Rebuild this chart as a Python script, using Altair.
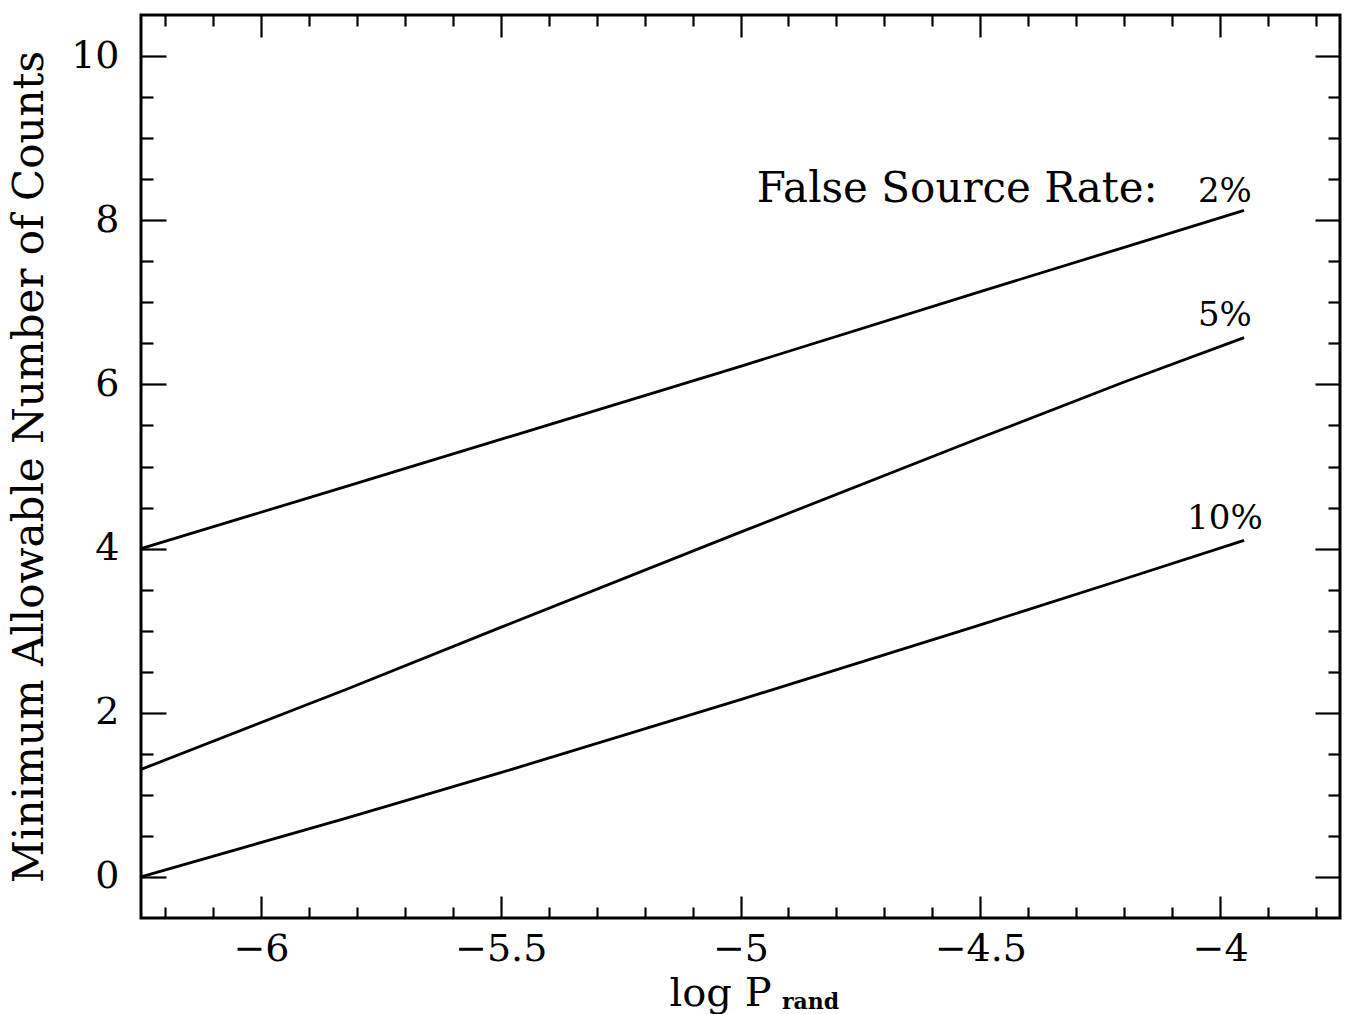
import altair as alt
import pandas as pd

# ---- data ----
log_p = [-6.25, -5.82, -5.5, -5.0, -4.5, -4.2, -3.95]
rate_2 = [4.0, 4.76, 5.33, 6.22, 7.13, 7.67, 8.12]
rate_5 = [1.31, 2.29, 3.04, 4.20, 5.35, 6.03, 6.57]
rate_10 = [0.0, 0.72, 1.27, 2.16, 3.07, 3.63, 4.10]
series_names = ["2%", "5%", "10%"]

label_text = ["2%", "5%", "10%"]
label_x = [-3.99, -3.99, -3.99]
label_y = [8.22, 6.71, 4.24]
header_text = ["False Source Rate:"]
header_x = [-4.13]
header_y = [8.22]

x_major = [-6, -5.5, -5, -4.5, -4]
x_minor = [round(-6.2 + 0.1 * i, 1) for i in range(25)]
x_minor = [v for v in x_minor if all(abs(v - m) > 1e-6 for m in x_major)]
y_major = [0, 2, 4, 6, 8, 10]
y_minor = [v * 0.5 for v in range(1, 20) if v % 4 != 0]

W, H = 1199, 903
FONT = "DejaVu Serif"

rows = []
for name, ys in zip(series_names, [rate_2, rate_5, rate_10]):
    for xv, yv in zip(log_p, ys):
        rows.append({"x": xv, "y": yv, "series": name})
df = pd.DataFrame(rows)

xs = alt.Scale(domain=[-6.25, -3.75], nice=False, zero=False)
ys_ = alt.Scale(domain=[-0.5, 10.5], nice=False, zero=False)

common = dict(domain=False, grid=False, tickColor="black", tickWidth=2.2,
              labelOverlap=False)

base = alt.Chart(df)

lines = base.mark_line(color="black", strokeWidth=2.8).encode(
    x=alt.X("x:Q", scale=xs, axis=alt.Axis(
        orient="bottom", values=x_major, ticks=False, tickSize=0, labelPadding=12,
        labelFont=FONT, labelFontSize=38, labelColor="black", format="~g",
        title="log P", titleFont=FONT, titleFontSize=40, titleFontWeight="normal",
        titleColor="black", titleX=579, titleY=87, titleAlign="center",
        titleBaseline="alphabetic", **common)),
    y=alt.Y("y:Q", scale=ys_, axis=alt.Axis(
        orient="left", values=y_major, ticks=False, tickSize=0, labelPadding=22,
        labelFont=FONT, labelFontSize=38, labelColor="black", format="d",
        title="Minimum Allowable Number of Counts", titleFont=FONT,
        titleFontSize=42, titleFontWeight="normal", titleColor="black",
        titleX=-99, titleY=H / 2, titleAngle=-90, titleAlign="center",
        titleBaseline="alphabetic", **common)),
    detail="series:N",
)


def tick_layer(xorient, yorient, xvals, yvals, xlen, ylen):
    return base.mark_point(opacity=0).encode(
        x=alt.X("x:Q", scale=xs, axis=alt.Axis(
            orient=xorient, offset=-H, values=xvals, labels=False,
            tickSize=xlen, title=None, **common)),
        y=alt.Y("y:Q", scale=ys_, axis=alt.Axis(
            orient=yorient, offset=-W, values=yvals, labels=False,
            tickSize=ylen, title=None, **common)),
    )


t1 = tick_layer("top", "right", x_major, y_major, 22, 25)     # bottom & left major
t2 = tick_layer("bottom", "left", x_major, y_major, 22, 25)   # top & right major
t3 = tick_layer("top", "right", x_minor, y_minor, 11, 12)     # bottom & left minor
t4 = tick_layer("bottom", "left", x_minor, y_minor, 11, 12)   # top & right minor

lab_df = pd.DataFrame({"t": label_text, "x": label_x, "y": label_y})
hdr_df = pd.DataFrame({"t": header_text, "x": header_x, "y": header_y})

labels = alt.Chart(lab_df).mark_text(
    font=FONT, fontSize=34, color="black", align="center", baseline="alphabetic"
).encode(x=alt.X("x:Q", scale=xs, axis=None), y=alt.Y("y:Q", scale=ys_, axis=None),
         text="t:N")

header = alt.Chart(hdr_df).mark_text(
    font=FONT, fontSize=42, color="black", align="right", baseline="alphabetic"
).encode(x=alt.X("x:Q", scale=xs, axis=None), y=alt.Y("y:Q", scale=ys_, axis=None),
         text="t:N")

sub = alt.Chart(pd.DataFrame({"t": ["rand"]})).mark_text(
    font=FONT, fontSize=22, fontWeight="bold", color="black", align="left",
    baseline="alphabetic"
).encode(x=alt.value(641), y=alt.value(994), text="t:N")

chart = alt.layer(lines, t1, t2, t3, t4, labels, header, sub).resolve_axis(
    x="independent", y="independent"
).properties(
    width=W, height=H,
    background="white",
    autosize=alt.AutoSizeParams(type="none"),
    padding={"left": 141, "top": 15, "right": 7, "bottom": 96},
).configure_view(stroke="black", strokeWidth=3)

chart.save("out.html", embed_options={"renderer": "svg", "actions": False})
